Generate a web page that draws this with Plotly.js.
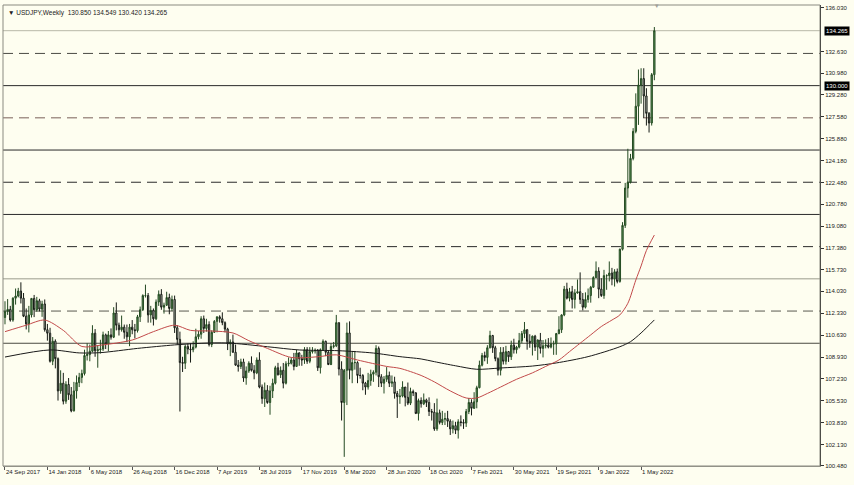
<!DOCTYPE html>
<html>
<head>
<meta charset="utf-8">
<script src="https://cdn.plot.ly/plotly-3.0.1.min.js"></script>
<style>
html,body{margin:0;padding:0;background:#fefef0;}
#chart{width:854px;height:485px;}
</style>
</head>
<body>
<div id="chart"></div>
<script>
// Weekly USDJPY candles, week 0 = 24 Sep 2017 ... week 245 = 5 Jun 2022
const open = [112.0,112.47,112.63,111.8,113.5,113.67,114.05,113.5,112.1,111.5,112.2,113.48,112.6,113.3,112.65,113.05,111.05,110.78,108.6,110.16,108.8,106.3,106.9,105.5,106.8,106.0,104.75,106.3,106.95,107.35,107.65,109.05,109.12,109.38,110.78,109.42,109.5,109.55,110.65,109.95,110.65,110.47,112.35,111.4,111.05,111.25,110.85,110.5,111.25,111.05,110.98,112.05,112.6,113.7,113.7,112.2,112.55,111.9,113.2,113.8,112.8,112.95,113.55,112.7,113.4,111.2,110.3,108.5,108.45,109.75,109.55,109.5,109.7,110.5,110.7,111.9,111.15,111.45,109.9,110.85,111.7,112.05,111.9,111.6,111.1,109.95,110.1,109.3,108.3,108.2,108.55,107.3,107.85,108.45,107.9,107.7,108.7,106.6,105.7,106.35,105.4,106.3,106.9,108.1,107.55,107.9,106.9,108.4,108.45,108.7,108.2,109.25,108.8,108.7,109.5,108.6,109.35,109.4,109.45,108.1,109.5,110.15,109.3,108.35,109.75,109.8,111.6,108.0,105.4,107.9,110.8,107.9,108.5,108.5,107.5,107.5,106.9,106.6,107.1,107.6,107.75,109.6,107.4,106.9,107.2,107.5,106.9,107.0,106.1,105.85,105.9,106.6,105.8,105.35,106.25,106.15,104.55,105.55,105.3,105.6,105.4,104.7,104.65,103.35,104.6,103.85,104.1,104.15,103.95,103.35,103.6,103.25,103.9,103.85,103.8,104.7,105.4,104.95,105.45,106.55,108.3,109.05,108.9,109.65,110.6,109.65,108.8,107.9,109.3,108.6,109.35,108.95,109.85,109.5,109.7,110.2,110.75,111.05,110.15,110.05,110.55,109.7,110.25,109.6,109.8,109.85,109.7,109.95,109.95,110.75,111.05,112.2,114.2,113.5,114.0,113.4,113.9,114.0,113.4,112.8,113.4,113.7,114.35,115.1,115.6,114.2,113.7,115.25,115.25,115.45,115.0,115.55,114.8,117.3,119.15,122.05,122.5,124.35,126.45,128.4,130.05,130.55,129.2,127.85,127.1,130.85];
const high = [113.26,113.43,112.9,113.57,114.25,114.3,114.73,113.9,112.7,112.9,113.5,113.75,113.6,113.45,113.3,113.4,111.5,111.2,110.48,110.3,108.9,107.9,107.7,107.05,107.3,106.6,107.0,107.5,107.7,107.95,109.5,110.0,109.9,111.4,111.1,109.85,110.27,110.9,110.75,110.95,111.15,112.8,113.17,111.6,112.15,111.45,111.45,111.5,111.8,111.5,112.2,112.85,113.8,114.55,113.9,112.9,112.7,113.4,114.1,114.2,113.15,114.0,113.85,113.7,113.7,111.4,110.9,108.95,109.9,109.98,110.0,110.15,111.13,110.95,112.1,112.15,111.9,111.7,111.0,111.8,112.08,112.17,112.4,111.7,111.2,110.3,110.67,109.9,108.7,108.8,108.8,108.2,108.6,108.98,108.3,108.9,109.3,106.8,106.95,106.75,106.7,107.25,108.25,108.48,108.2,108.47,108.6,108.9,108.9,109.25,109.48,109.3,109.1,109.7,109.7,109.7,109.7,109.6,109.55,109.6,110.3,110.2,109.4,110.0,110.1,112.2,111.6,108.6,108.0,111.6,111.7,109.4,109.4,108.6,108.1,107.6,107.0,107.7,107.95,107.9,109.85,109.75,107.6,107.45,108.15,107.8,107.5,107.4,106.3,106.45,107.05,106.6,106.95,106.55,106.4,106.2,105.7,105.8,106.1,105.7,105.8,104.9,105.35,105.7,104.85,104.75,104.6,104.75,104.1,104.0,103.9,104.1,104.4,104.1,104.9,105.75,105.65,106.2,106.7,108.65,109.25,109.35,109.85,110.97,110.65,109.8,108.9,109.7,109.7,109.8,109.4,110.2,110.35,109.8,110.8,110.95,111.65,111.1,110.7,110.6,110.65,110.3,110.8,110.25,110.3,110.4,110.45,110.2,110.8,112.1,112.25,114.45,114.7,114.3,114.45,114.2,114.95,115.5,113.9,113.95,114.25,114.45,115.2,116.35,115.9,115.05,115.7,115.35,116.35,115.85,115.75,115.8,117.35,119.4,122.45,125.1,124.7,126.7,129.4,131.25,131.35,131.35,129.8,127.95,130.98,134.549];
const low = [111.47,112.2,111.68,111.67,113.0,113.56,113.09,112.03,111.07,110.84,112.0,112.03,112.45,112.47,112.05,110.9,110.2,108.5,108.3,108.05,105.55,106.08,105.25,105.3,105.6,104.64,104.7,105.7,106.6,106.9,107.5,108.66,108.6,109.3,108.95,108.1,109.2,109.4,109.55,109.37,110.28,110.4,111.0,110.6,110.9,110.35,110.1,109.77,110.7,110.38,110.83,111.65,112.5,113.55,111.6,111.6,111.38,111.8,112.9,112.6,112.3,112.9,112.25,112.5,110.8,109.9,104.7,107.77,108.0,109.15,108.5,109.3,109.6,110.3,110.35,110.8,110.9,109.75,109.7,110.8,110.85,111.6,111.4,110.85,109.47,109.0,109.25,108.25,107.8,108.0,107.0,106.78,107.7,107.8,107.2,107.6,106.5,105.3,105.05,105.3,104.45,105.75,106.8,107.5,107.3,106.5,106.8,108.2,108.35,107.9,108.2,108.25,108.25,108.4,108.4,108.45,109.2,109.2,107.85,107.65,109.4,109.0,108.3,108.3,109.6,109.7,107.5,104.0,101.18,105.2,107.2,106.9,107.95,106.9,107.25,106.35,106.0,106.4,106.7,107.0,107.5,106.6,106.6,106.1,107.0,106.6,106.6,105.7,104.2,105.3,105.8,105.1,105.2,105.2,105.9,104.5,104.0,105.0,105.2,105.05,104.35,104.0,103.2,103.2,103.7,103.65,103.65,103.5,102.88,103.0,102.95,102.6,103.55,103.35,103.5,104.5,104.4,104.9,104.95,106.5,108.2,108.6,108.4,109.6,109.25,108.6,107.5,107.5,108.35,108.35,108.55,108.7,109.2,109.2,109.6,110.0,110.4,109.5,109.65,109.05,109.4,108.7,109.2,108.9,109.6,109.6,109.6,109.1,109.1,110.7,110.8,112.1,113.4,113.25,112.7,112.7,113.85,113.05,112.55,112.7,113.15,113.15,114.3,115.05,113.5,113.6,113.45,114.15,114.8,114.5,114.4,114.65,114.7,117.2,118.95,121.3,122.4,124.2,126.3,126.95,128.6,127.5,126.9,126.36,126.9,130.42];
const close = [112.47,112.63,111.8,113.5,113.67,114.05,113.5,112.1,111.5,112.2,113.48,112.6,113.3,112.65,113.05,111.05,110.78,108.6,110.16,108.8,106.3,106.9,105.5,106.8,106.0,104.75,106.3,106.95,107.35,107.65,109.05,109.12,109.38,110.78,109.42,109.5,109.55,110.65,109.95,110.65,110.47,112.35,111.4,111.05,111.25,110.85,110.5,111.25,111.05,110.98,112.05,112.6,113.7,113.7,112.2,112.55,111.9,113.2,113.8,112.8,112.95,113.55,112.7,113.4,111.2,110.3,108.5,108.45,109.75,109.55,109.5,109.7,110.5,110.7,111.9,111.15,111.45,109.9,110.85,111.7,112.05,111.9,111.6,111.1,109.95,110.1,109.3,108.3,108.2,108.55,107.3,107.85,108.45,107.9,107.7,108.7,106.6,105.7,106.35,105.4,106.3,106.9,108.1,107.55,107.9,106.9,108.4,108.45,108.7,108.2,109.25,108.8,108.7,109.5,108.6,109.35,109.4,109.45,108.1,109.5,110.15,109.3,108.35,109.75,109.8,111.6,108.0,105.4,107.9,110.8,107.9,108.5,108.5,107.5,107.5,106.9,106.6,107.1,107.6,107.75,109.6,107.4,106.9,107.2,107.5,106.9,107.0,106.1,105.85,105.9,106.6,105.8,105.35,106.25,106.15,104.55,105.55,105.3,105.6,105.4,104.7,104.65,103.35,104.6,103.85,104.1,104.15,103.95,103.35,103.6,103.25,103.9,103.85,103.8,104.7,105.4,104.95,105.45,106.55,108.3,109.05,108.9,109.65,110.6,109.65,108.8,107.9,109.3,108.6,109.35,108.95,109.85,109.5,109.7,110.2,110.75,111.05,110.15,110.05,110.55,109.7,110.25,109.6,109.8,109.85,109.7,109.95,109.95,110.75,111.05,112.2,114.2,113.5,114.0,113.4,113.9,114.0,113.4,112.8,113.4,113.7,114.35,115.1,115.6,114.2,113.7,115.25,115.25,115.45,115.0,115.55,114.8,117.3,119.15,122.05,122.5,124.35,126.45,128.4,130.05,130.55,129.2,127.85,127.1,130.85,134.265];

// Moving averages (week index, value)
const redMaWeek = [0,8,15,22,29,36,48,56,64,70,78,86,92,99,108,118,125,133,144,149,157,162,168,174,178,182,187,193,199,204,209,213,217,221,225,229,232,235,238,240,242,245];
const redMa = [110.9,111.4,111.8,111.0,109.75,109.85,110.25,110.9,111.4,111.0,110.95,110.8,110.2,109.6,108.9,108.95,109.1,108.7,108.2,108.05,107.5,107.0,106.3,105.75,105.75,106.1,106.6,107.2,107.7,108.2,108.7,109.35,110.0,110.65,111.3,111.8,112.2,113.1,114.9,116.0,117.2,118.4];
const blackMaWeek = [0,17,28,36,50,64,74,84,99,111,126,139,149,157,162,170,178,187,199,208,220,232,236,240,245];
const blackMa = [108.93,109.48,109.25,109.27,109.6,109.87,110.0,110.02,109.73,109.48,109.42,109.24,108.96,108.78,108.57,108.25,107.98,108.08,108.23,108.47,108.96,109.73,110.12,110.8,111.81];

// Horizontal levels
const solidLevels = [130.0,125.0,120.0,115.0,110.0];
const solidColors = ['#2a2a2a','#2a2a2a','#2a2a2a','#9a9c8c','#4a4a40'];
const dashedLevels = [132.5,127.5,122.5,117.5,112.5];
const dashedColors = ['#4a4a44','#7a6058','#2a2a2a','#2a2a2a','#5a5a50'];
const lastPrice = 134.265;

// Axis ticks
const xTickWeeks = [0,16,32,48,64,80,96,112,128,144,160,176,192,208,224,240];
const xTickText = ['24 Sep 2017','14 Jan 2018','6 May 2018','26 Aug 2018','16 Dec 2018','7 Apr 2019','28 Jul 2019','17 Nov 2019','8 Mar 2020','28 Jun 2020','18 Oct 2020','7 Feb 2021','30 May 2021','19 Sep 2021','9 Jan 2022','1 May 2022'];
const yTickVals = [136.03,132.63,130.98,129.28,127.58,125.88,124.18,122.48,120.78,119.08,117.38,115.73,114.03,112.33,110.63,108.93,107.23,105.53,103.83,102.13,100.48];
const titleText = '\u25BC USDJPY,Weekly  130.850 134.549 130.420 134.265';

const weeks = open.map((_, i) => i);
const FONT = 'Liberation Sans, Arial, sans-serif';

const traces = [
  {type:'scatter', mode:'lines', x: blackMaWeek, y: blackMa, line:{color:'#1a1a1a', width:1, shape:'spline', smoothing:0.8}, hoverinfo:'skip'},
  {type:'scatter', mode:'lines', x: redMaWeek, y: redMa, line:{color:'#c24a4a', width:1, shape:'spline', smoothing:0.8}, hoverinfo:'skip'},
  {type:'candlestick', x: weeks, open: open, high: high, low: low, close: close,
   increasing:{line:{color:'#244a22', width:1}, fillcolor:'#5f9a5a'},
   decreasing:{line:{color:'#151a14', width:1}, fillcolor:'#d6dccf'},
   whiskerwidth:0, hoverinfo:'skip'}
];

const shapes = [];
solidLevels.forEach((v, k) => shapes.push({type:'line', xref:'paper', x0:0, x1:1, yref:'y', y0:v, y1:v, line:{color:solidColors[k], width:1}, layer:'below'}));
dashedLevels.forEach((v, k) => shapes.push({type:'line', xref:'paper', x0:0, x1:1, yref:'y', y0:v, y1:v, line:{color:dashedColors[k], width:1, dash:'10px,6px'}, layer:'below'}));
shapes.push({type:'line', xref:'paper', x0:0, x1:1, yref:'y', y0:lastPrice, y1:lastPrice, line:{color:'#b8b8a8', width:1}, layer:'below'});
shapes.push({type:'rect', xref:'paper', yref:'paper', x0:0, x1:1, y0:0, y1:1, line:{color:'#8a8a80', width:1}});

const annotations = [
  {xref:'paper', yref:'paper', x:0, y:1, xanchor:'left', yanchor:'top', xshift:3, yshift:-2, text:titleText, showarrow:false, font:{family:FONT, size:6.5, color:'#222'}},
  {xref:'paper', yref:'y', x:1, y:lastPrice, xanchor:'left', yanchor:'middle', xshift:4, text:lastPrice.toFixed(3), showarrow:false, bgcolor:'#000', borderpad:1, font:{family:FONT, size:6, color:'#fff'}},
  {xref:'paper', yref:'y', x:1, y:solidLevels[0], xanchor:'left', yanchor:'middle', xshift:4, text:solidLevels[0].toFixed(3), showarrow:false, bgcolor:'#000', borderpad:1, font:{family:FONT, size:6, color:'#fff'}},
  {xref:'x', yref:'paper', x:246, y:1, xanchor:'center', yanchor:'middle', text:'\u25BE', showarrow:false, font:{family:FONT, size:7, color:'#a0a098'}}
];

const layout = {
  width:854, height:485,
  margin:{l:3, r:34, t:5, b:19},
  paper_bgcolor:'#fefef0', plot_bgcolor:'#fefef0',
  showlegend:false,
  font:{family:FONT, size:6, color:'#222'},
  xaxis:{range:[-0.75, 307.5], rangeslider:{visible:false}, showgrid:false, zeroline:false,
         tickmode:'array', tickvals:xTickWeeks, ticktext:xTickText, ticks:'outside', ticklen:3, tickcolor:'#555',
         tickangle:0, automargin:false,
         ticklabelposition:'outside right', showline:true, linecolor:'#9a9a90', linewidth:1,
         tickfont:{family:FONT, size:6, color:'#222'}, fixedrange:true},
  yaxis:{range:[100.47, 136.26], side:'right', showgrid:false, zeroline:false,
         tickmode:'array', tickvals:yTickVals, ticktext:yTickVals.map(v => v.toFixed(3)), ticks:'outside', ticklen:3, tickcolor:'#333',
         automargin:false,
         showline:true, linecolor:'#111', linewidth:1, tickfont:{family:FONT, size:6, color:'#222'}, fixedrange:true},
  shapes:shapes,
  annotations:annotations
};

Plotly.newPlot('chart', traces, layout, {staticPlot:true, displayModeBar:false});
</script>
</body>
</html>
